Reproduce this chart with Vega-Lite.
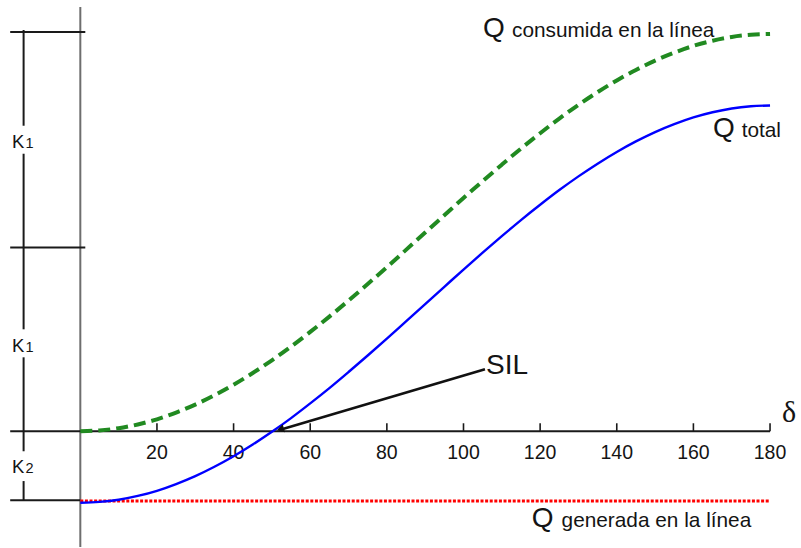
{
  "$schema": "https://vega.github.io/schema/vega-lite/v6.json",
  "width": 801,
  "height": 548,
  "autosize": {"type": "fit", "contains": "padding"},
  "padding": 0,
  "background": "white",
  "config": {"view": {"stroke": null}, "text": {"font": "Liberation Sans", "color": "#141414"}},
  "datasets": {
    "curve": [
      {"d": 0, "cons": 0.000, "total": -0.360},
      {"d": 5, "cons": 0.004, "total": -0.356},
      {"d": 10, "cons": 0.015, "total": -0.345},
      {"d": 15, "cons": 0.034, "total": -0.326},
      {"d": 20, "cons": 0.060, "total": -0.300},
      {"d": 25, "cons": 0.094, "total": -0.266},
      {"d": 30, "cons": 0.134, "total": -0.226},
      {"d": 35, "cons": 0.181, "total": -0.179},
      {"d": 40, "cons": 0.234, "total": -0.126},
      {"d": 45, "cons": 0.293, "total": -0.067},
      {"d": 50, "cons": 0.357, "total": -0.003},
      {"d": 55, "cons": 0.426, "total": 0.066},
      {"d": 60, "cons": 0.500, "total": 0.140},
      {"d": 65, "cons": 0.577, "total": 0.217},
      {"d": 70, "cons": 0.658, "total": 0.298},
      {"d": 75, "cons": 0.741, "total": 0.381},
      {"d": 80, "cons": 0.826, "total": 0.466},
      {"d": 85, "cons": 0.913, "total": 0.553},
      {"d": 90, "cons": 1.000, "total": 0.640},
      {"d": 95, "cons": 1.087, "total": 0.727},
      {"d": 100, "cons": 1.174, "total": 0.814},
      {"d": 105, "cons": 1.259, "total": 0.899},
      {"d": 110, "cons": 1.342, "total": 0.982},
      {"d": 115, "cons": 1.423, "total": 1.063},
      {"d": 120, "cons": 1.500, "total": 1.140},
      {"d": 125, "cons": 1.574, "total": 1.214},
      {"d": 130, "cons": 1.643, "total": 1.283},
      {"d": 135, "cons": 1.707, "total": 1.347},
      {"d": 140, "cons": 1.766, "total": 1.406},
      {"d": 145, "cons": 1.819, "total": 1.459},
      {"d": 150, "cons": 1.866, "total": 1.506},
      {"d": 155, "cons": 1.906, "total": 1.546},
      {"d": 160, "cons": 1.940, "total": 1.580},
      {"d": 165, "cons": 1.966, "total": 1.606},
      {"d": 170, "cons": 1.985, "total": 1.625},
      {"d": 175, "cons": 1.996, "total": 1.636},
      {"d": 180, "cons": 2.000, "total": 1.640}
    ],
    "generada": [
      {"d": 0, "q": -0.352},
      {"d": 180, "q": -0.352}
    ],
    "yaxis": [
      {"d": 0, "d2": 0, "q": 2.136, "q2": -0.583}
    ],
    "frame": [
      {"d": -18.3, "d2": 180, "q": 0, "q2": 0},
      {"d": -18.3, "d2": 1.3, "q": 2.01, "q2": 2.01},
      {"d": -18.3, "d2": 1.3, "q": 0.925, "q2": 0.925},
      {"d": -18.3, "d2": 0, "q": -0.347, "q2": -0.347},
      {"d": -14.8, "d2": -14.8, "q": 2.02, "q2": 1.538},
      {"d": -14.8, "d2": -14.8, "q": 1.397, "q2": 0.513},
      {"d": -14.8, "d2": -14.8, "q": 0.372, "q2": -0.101},
      {"d": -14.8, "d2": -14.8, "q": -0.251, "q2": -0.347}
    ],
    "ticks": [
      {"d": 20}, {"d": 40}, {"d": 60}, {"d": 80}, {"d": 100},
      {"d": 120}, {"d": 140}, {"d": 160}, {"d": 180}
    ],
    "sil": [
      {"d": 105.6, "d2": 52.4, "q": 0.312, "q2": 0.008}
    ],
    "silHead": [
      {"d": 52.2, "q": 0.01}
    ],
    "qLetters": [
      {"t": "Q", "d": 105.1, "q": 1.985},
      {"t": "Q", "d": 165.1, "q": 1.482},
      {"t": "Q", "d": 117.8, "q": -0.482}
    ],
    "qSubs": [
      {"t": "consumida en la línea", "d": 112.66, "q": 1.985},
      {"t": "total", "d": 172.6, "q": 1.482},
      {"t": "generada en la línea", "d": 125.6, "q": -0.482}
    ],
    "silText": [
      {"t": "SIL", "d": 105.9, "q": 0.286}
    ],
    "deltaText": [
      {"t": "δ", "d": 183.1, "q": 0.045}
    ],
    "kLetters": [
      {"t": "K", "d": -17.82, "q": 1.427},
      {"t": "K", "d": -17.82, "q": 0.397},
      {"t": "K", "d": -17.82, "q": -0.211}
    ],
    "kSubs": [
      {"t": "1", "d": -14.3, "q": 1.427},
      {"t": "1", "d": -14.3, "q": 0.397},
      {"t": "2", "d": -14.3, "q": -0.211}
    ]
  },
  "layer": [
    {
      "data": {"name": "yaxis"},
      "mark": {"type": "rule", "color": "#6e6e6e", "strokeWidth": 2},
      "encoding": {
        "x": {"field": "d", "type": "quantitative", "scale": {"domain": [-20.96, 188.08], "nice": false, "zero": false}, "axis": null},
        "x2": {"field": "d2"},
        "y": {"field": "q", "type": "quantitative", "scale": {"domain": [-0.583, 2.171], "nice": false, "zero": false}, "axis": null},
        "y2": {"field": "q2"}
      }
    },
    {
      "data": {"name": "frame"},
      "mark": {"type": "rule", "color": "#1a1a1a", "strokeWidth": 2},
      "encoding": {
        "x": {"field": "d", "type": "quantitative", "scale": {"domain": [-20.96, 188.08], "nice": false, "zero": false}, "axis": null},
        "x2": {"field": "d2"},
        "y": {"field": "q", "type": "quantitative", "scale": {"domain": [-0.583, 2.171], "nice": false, "zero": false}, "axis": null},
        "y2": {"field": "q2"}
      }
    },
    {
      "data": {"name": "ticks"},
      "mark": {"type": "rule", "color": "#1a1a1a", "strokeWidth": 1.6},
      "encoding": {
        "x": {"field": "d", "type": "quantitative", "scale": {"domain": [-20.96, 188.08], "nice": false, "zero": false}, "axis": null},
        "y": {"datum": 0, "type": "quantitative", "scale": {"domain": [-0.583, 2.171], "nice": false, "zero": false}, "axis": null},
        "y2": {"datum": 0.04}
      }
    },
    {
      "data": {"name": "ticks"},
      "mark": {"type": "text", "fontSize": 19.5, "align": "center", "baseline": "alphabetic"},
      "encoding": {
        "x": {"field": "d", "type": "quantitative", "scale": {"domain": [-20.96, 188.08], "nice": false, "zero": false}, "axis": null},
        "y": {"datum": -0.141, "type": "quantitative", "scale": {"domain": [-0.583, 2.171], "nice": false, "zero": false}, "axis": null},
        "text": {"field": "d", "type": "quantitative"}
      }
    },
    {
      "data": {"name": "generada"},
      "mark": {"type": "line", "color": "#ff0000", "strokeWidth": 3, "strokeDash": [3, 1.6]},
      "encoding": {
        "x": {"field": "d", "type": "quantitative", "scale": {"domain": [-20.96, 188.08], "nice": false, "zero": false}, "axis": null},
        "y": {"field": "q", "type": "quantitative", "scale": {"domain": [-0.583, 2.171], "nice": false, "zero": false}, "axis": null}
      }
    },
    {
      "data": {"name": "curve"},
      "mark": {"type": "line", "color": "#218a21", "strokeWidth": 4, "strokeDash": [12, 6], "interpolate": "monotone"},
      "encoding": {
        "x": {"field": "d", "type": "quantitative", "scale": {"domain": [-20.96, 188.08], "nice": false, "zero": false}, "axis": null},
        "y": {"field": "cons", "type": "quantitative", "scale": {"domain": [-0.583, 2.171], "nice": false, "zero": false}, "axis": null}
      }
    },
    {
      "data": {"name": "curve"},
      "mark": {"type": "line", "color": "#0000ff", "strokeWidth": 2.4, "interpolate": "monotone"},
      "encoding": {
        "x": {"field": "d", "type": "quantitative", "scale": {"domain": [-20.96, 188.08], "nice": false, "zero": false}, "axis": null},
        "y": {"field": "total", "type": "quantitative", "scale": {"domain": [-0.583, 2.171], "nice": false, "zero": false}, "axis": null}
      }
    },
    {
      "data": {"name": "sil"},
      "mark": {"type": "rule", "color": "#111111", "strokeWidth": 2.6},
      "encoding": {
        "x": {"field": "d", "type": "quantitative", "scale": {"domain": [-20.96, 188.08], "nice": false, "zero": false}, "axis": null},
        "x2": {"field": "d2"},
        "y": {"field": "q", "type": "quantitative", "scale": {"domain": [-0.583, 2.171], "nice": false, "zero": false}, "axis": null},
        "y2": {"field": "q2"}
      }
    },
    {
      "data": {"name": "silHead"},
      "mark": {"type": "point", "shape": "triangle-left", "filled": true, "color": "#111111", "opacity": 1, "size": 70, "angle": 344},
      "encoding": {
        "x": {"field": "d", "type": "quantitative", "scale": {"domain": [-20.96, 188.08], "nice": false, "zero": false}, "axis": null},
        "y": {"field": "q", "type": "quantitative", "scale": {"domain": [-0.583, 2.171], "nice": false, "zero": false}, "axis": null}
      }
    },
    {
      "data": {"name": "qLetters"},
      "mark": {"type": "text", "fontSize": 28, "align": "left", "baseline": "alphabetic"},
      "encoding": {
        "x": {"field": "d", "type": "quantitative", "scale": {"domain": [-20.96, 188.08], "nice": false, "zero": false}, "axis": null},
        "y": {"field": "q", "type": "quantitative", "scale": {"domain": [-0.583, 2.171], "nice": false, "zero": false}, "axis": null},
        "text": {"field": "t"}
      }
    },
    {
      "data": {"name": "qSubs"},
      "mark": {"type": "text", "fontSize": 20.8, "align": "left", "baseline": "alphabetic"},
      "encoding": {
        "x": {"field": "d", "type": "quantitative", "scale": {"domain": [-20.96, 188.08], "nice": false, "zero": false}, "axis": null},
        "y": {"field": "q", "type": "quantitative", "scale": {"domain": [-0.583, 2.171], "nice": false, "zero": false}, "axis": null},
        "text": {"field": "t"}
      }
    },
    {
      "data": {"name": "silText"},
      "mark": {"type": "text", "fontSize": 28, "align": "left", "baseline": "alphabetic"},
      "encoding": {
        "x": {"field": "d", "type": "quantitative", "scale": {"domain": [-20.96, 188.08], "nice": false, "zero": false}, "axis": null},
        "y": {"field": "q", "type": "quantitative", "scale": {"domain": [-0.583, 2.171], "nice": false, "zero": false}, "axis": null},
        "text": {"field": "t"}
      }
    },
    {
      "data": {"name": "deltaText"},
      "mark": {"type": "text", "fontSize": 30, "font": "Liberation Serif", "align": "left", "baseline": "alphabetic"},
      "encoding": {
        "x": {"field": "d", "type": "quantitative", "scale": {"domain": [-20.96, 188.08], "nice": false, "zero": false}, "axis": null},
        "y": {"field": "q", "type": "quantitative", "scale": {"domain": [-0.583, 2.171], "nice": false, "zero": false}, "axis": null},
        "text": {"field": "t"}
      }
    },
    {
      "data": {"name": "kLetters"},
      "mark": {"type": "text", "fontSize": 18.5, "align": "left", "baseline": "alphabetic"},
      "encoding": {
        "x": {"field": "d", "type": "quantitative", "scale": {"domain": [-20.96, 188.08], "nice": false, "zero": false}, "axis": null},
        "y": {"field": "q", "type": "quantitative", "scale": {"domain": [-0.583, 2.171], "nice": false, "zero": false}, "axis": null},
        "text": {"field": "t"}
      }
    },
    {
      "data": {"name": "kSubs"},
      "mark": {"type": "text", "fontSize": 14.5, "align": "left", "baseline": "alphabetic"},
      "encoding": {
        "x": {"field": "d", "type": "quantitative", "scale": {"domain": [-20.96, 188.08], "nice": false, "zero": false}, "axis": null},
        "y": {"field": "q", "type": "quantitative", "scale": {"domain": [-0.583, 2.171], "nice": false, "zero": false}, "axis": null},
        "text": {"field": "t"}
      }
    }
  ]
}
